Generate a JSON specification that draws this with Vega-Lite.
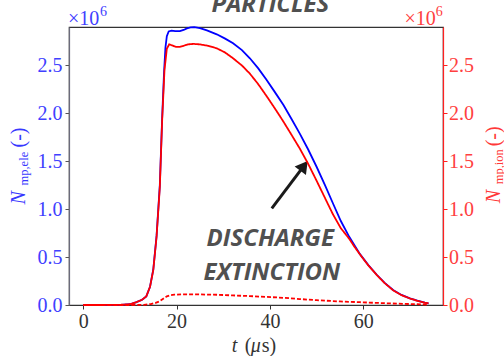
{
  "$schema": "https://vega.github.io/schema/vega-lite/v6.json",
  "width": 374,
  "height": 278,
  "autosize": {"type": "none"},
  "padding": {"left": 69, "top": 27, "right": 61, "bottom": 51},
  "background": "white",
  "config": {
    "view": {"stroke": "#333333", "strokeWidth": 1.2},
    "axis": {"grid": false, "labelFont": "Liberation Serif", "labelFontSize": 20, "tickSize": 4, "labelFlush": false, "labelOverlap": false, "domainWidth": 1.2, "tickWidth": 1}
  },
  "datasets": {
    "ele": [
      {"t": 0, "n": 0}, {"t": 4, "n": 0}, {"t": 8, "n": 0.002}, {"t": 10, "n": 0.008}, {"t": 11.4, "n": 0.03},
      {"t": 12.6, "n": 0.055}, {"t": 13.5, "n": 0.09}, {"t": 14.3, "n": 0.19}, {"t": 15, "n": 0.37}, {"t": 15.7, "n": 0.72},
      {"t": 16.4, "n": 1.25}, {"t": 16.9, "n": 1.95}, {"t": 17.3, "n": 2.42}, {"t": 17.6, "n": 2.68}, {"t": 17.9, "n": 2.8},
      {"t": 18.3, "n": 2.85}, {"t": 18.9, "n": 2.858}, {"t": 19.7, "n": 2.852}, {"t": 20.7, "n": 2.852}, {"t": 21.5, "n": 2.865},
      {"t": 22.2, "n": 2.882}, {"t": 23, "n": 2.892}, {"t": 23.8, "n": 2.895}, {"t": 25, "n": 2.885}, {"t": 26.5, "n": 2.86},
      {"t": 28.6, "n": 2.82}, {"t": 30.4, "n": 2.775}, {"t": 32.1, "n": 2.726}, {"t": 34, "n": 2.655}, {"t": 35.7, "n": 2.57},
      {"t": 37.5, "n": 2.465}, {"t": 39.3, "n": 2.344}, {"t": 41.1, "n": 2.215}, {"t": 42.9, "n": 2.083}, {"t": 44.6, "n": 1.94},
      {"t": 46.4, "n": 1.785}, {"t": 48.2, "n": 1.62}, {"t": 50, "n": 1.44}, {"t": 51.8, "n": 1.25}, {"t": 53.5, "n": 1.06},
      {"t": 55.2, "n": 0.875}, {"t": 57, "n": 0.71}, {"t": 59.3, "n": 0.53}, {"t": 61.1, "n": 0.415}, {"t": 62.9, "n": 0.315},
      {"t": 64.6, "n": 0.23}, {"t": 66.4, "n": 0.156}, {"t": 68.2, "n": 0.105}, {"t": 70, "n": 0.07}, {"t": 71.6, "n": 0.045},
      {"t": 73.2, "n": 0.025}, {"t": 74, "n": 0.018}
    ],
    "ion": [
      {"t": 0, "n": 0, "kind": "total"}, {"t": 4, "n": 0, "kind": "total"}, {"t": 8, "n": 0.002, "kind": "total"}, {"t": 10, "n": 0.008, "kind": "total"},
      {"t": 11.4, "n": 0.03, "kind": "total"}, {"t": 12.6, "n": 0.055, "kind": "total"}, {"t": 13.5, "n": 0.09, "kind": "total"}, {"t": 14.3, "n": 0.19, "kind": "total"},
      {"t": 15, "n": 0.365, "kind": "total"}, {"t": 15.7, "n": 0.71, "kind": "total"}, {"t": 16.4, "n": 1.23, "kind": "total"}, {"t": 16.9, "n": 1.93, "kind": "total"},
      {"t": 17.4, "n": 2.45, "kind": "total"}, {"t": 17.9, "n": 2.67, "kind": "total"}, {"t": 18.4, "n": 2.715, "kind": "total"}, {"t": 19, "n": 2.705, "kind": "total"},
      {"t": 19.8, "n": 2.69, "kind": "total"}, {"t": 20.7, "n": 2.69, "kind": "total"}, {"t": 21.5, "n": 2.7, "kind": "total"}, {"t": 22.4, "n": 2.715, "kind": "total"},
      {"t": 23.6, "n": 2.72, "kind": "total"}, {"t": 25, "n": 2.715, "kind": "total"}, {"t": 26.8, "n": 2.7, "kind": "total"}, {"t": 28.6, "n": 2.674, "kind": "total"},
      {"t": 30.4, "n": 2.63, "kind": "total"}, {"t": 32.1, "n": 2.57, "kind": "total"}, {"t": 34, "n": 2.495, "kind": "total"}, {"t": 35.7, "n": 2.41, "kind": "total"},
      {"t": 37.5, "n": 2.3, "kind": "total"}, {"t": 39.3, "n": 2.175, "kind": "total"}, {"t": 41.1, "n": 2.045, "kind": "total"}, {"t": 42.9, "n": 1.91, "kind": "total"},
      {"t": 44.6, "n": 1.775, "kind": "total"}, {"t": 46.4, "n": 1.63, "kind": "total"}, {"t": 48.2, "n": 1.47, "kind": "total"}, {"t": 50, "n": 1.295, "kind": "total"},
      {"t": 51.8, "n": 1.115, "kind": "total"}, {"t": 53.5, "n": 0.945, "kind": "total"}, {"t": 55.2, "n": 0.8, "kind": "total"}, {"t": 57, "n": 0.69, "kind": "total"},
      {"t": 58, "n": 0.615, "kind": "total"}, {"t": 59.3, "n": 0.527, "kind": "total"}, {"t": 61.1, "n": 0.412, "kind": "total"}, {"t": 62.9, "n": 0.312, "kind": "total"},
      {"t": 64.6, "n": 0.228, "kind": "total"}, {"t": 66.4, "n": 0.154, "kind": "total"}, {"t": 68.2, "n": 0.103, "kind": "total"}, {"t": 70, "n": 0.068, "kind": "total"},
      {"t": 71.6, "n": 0.044, "kind": "total"}, {"t": 73.2, "n": 0.024, "kind": "total"}, {"t": 74, "n": 0.017, "kind": "total"},
      {"t": 0, "n": 0, "kind": "dashed"}, {"t": 10, "n": 0, "kind": "dashed"}, {"t": 13, "n": 0.002, "kind": "dashed"}, {"t": 14.5, "n": 0.01, "kind": "dashed"},
      {"t": 15.5, "n": 0.022, "kind": "dashed"}, {"t": 16.4, "n": 0.04, "kind": "dashed"}, {"t": 17.2, "n": 0.068, "kind": "dashed"}, {"t": 17.9, "n": 0.09, "kind": "dashed"},
      {"t": 18.6, "n": 0.102, "kind": "dashed"}, {"t": 19.5, "n": 0.108, "kind": "dashed"}, {"t": 21, "n": 0.11, "kind": "dashed"}, {"t": 25, "n": 0.11, "kind": "dashed"},
      {"t": 28.6, "n": 0.107, "kind": "dashed"}, {"t": 32, "n": 0.1, "kind": "dashed"}, {"t": 35.7, "n": 0.093, "kind": "dashed"}, {"t": 39.3, "n": 0.084, "kind": "dashed"},
      {"t": 42.9, "n": 0.075, "kind": "dashed"}, {"t": 46.4, "n": 0.062, "kind": "dashed"}, {"t": 50, "n": 0.05, "kind": "dashed"}, {"t": 55, "n": 0.037, "kind": "dashed"},
      {"t": 59.3, "n": 0.029, "kind": "dashed"}, {"t": 65, "n": 0.018, "kind": "dashed"}, {"t": 70, "n": 0.01, "kind": "dashed"}, {"t": 74, "n": 0.005, "kind": "dashed"}
    ]
  },
  "layer": [
    {
      "layer": [
        {
          "data": {"name": "ele"},
          "mark": {"type": "line", "color": "#0000ff", "strokeWidth": 1.8},
          "encoding": {
            "x": {"field": "t", "type": "quantitative", "scale": {"domain": [-3.07, 77.1], "nice": false, "zero": false},
                  "axis": {"values": [0, 20, 40, 60], "title": null, "labelColor": "#333333", "domainColor": "#333333", "tickColor": "#333333", "labelPadding": 2}},
            "y": {"field": "n", "type": "quantitative", "scale": {"domain": [0, 2.896], "nice": false},
                  "axis": {"orient": "left", "values": [0, 0.5, 1, 1.5, 2, 2.5], "format": ".1f", "title": null, "labelColor": "#4040ff", "domainColor": "#6b6b7b", "tickColor": "#555555", "labelPadding": 3}}
          }
        },
        {
          "data": {"values": [{}]},
          "layer": [
            {"mark": {"type": "text", "text": "PARTICLES", "font": "Open Sans", "fontWeight": "bold", "fontStyle": "italic", "fontSize": 24, "color": "#505050", "align": "center", "baseline": "alphabetic"},
             "encoding": {"x": {"datum": 40.1, "type": "quantitative"}, "y": {"datum": 3.052, "type": "quantitative"}}},
            {"mark": {"type": "text", "text": "DISCHARGE", "font": "Open Sans", "fontWeight": "bold", "fontStyle": "italic", "fontSize": 24, "color": "#505050", "align": "center", "baseline": "alphabetic"},
             "encoding": {"x": {"datum": 40.07, "type": "quantitative"}, "y": {"datum": 0.615, "type": "quantitative"}}},
            {"mark": {"type": "text", "text": "EXTINCTION", "font": "Open Sans", "fontWeight": "bold", "fontStyle": "italic", "fontSize": 24, "color": "#505050", "align": "center", "baseline": "alphabetic"},
             "encoding": {"x": {"datum": 40.4, "type": "quantitative"}, "y": {"datum": 0.26, "type": "quantitative"}}},
            {"mark": {"type": "rule", "color": "#1a1a1a", "strokeWidth": 3},
             "encoding": {"x": {"datum": 40.4, "type": "quantitative"}, "y": {"datum": 1.007, "type": "quantitative"}, "x2": {"datum": 46.6}, "y2": {"datum": 1.405}}},
            {"mark": {"type": "point", "shape": "triangle-up", "filled": true, "color": "#1a1a1a", "opacity": 1, "size": 200, "angle": 37},
             "encoding": {"x": {"datum": 47.3, "type": "quantitative"}, "y": {"datum": 1.45, "type": "quantitative"}}},
            {"mark": {"type": "text", "text": "×10", "font": "Liberation Serif", "fontSize": 20, "color": "#4040ff", "align": "left", "baseline": "alphabetic"},
             "encoding": {"x": {"datum": -3.28, "type": "quantitative"}, "y": {"datum": 2.917, "type": "quantitative"}}},
            {"mark": {"type": "text", "text": "6", "font": "Liberation Serif", "fontSize": 14, "color": "#4040ff", "align": "left", "baseline": "alphabetic", "dx": 32, "dy": -9},
             "encoding": {"x": {"datum": -3.28, "type": "quantitative"}, "y": {"datum": 2.917, "type": "quantitative"}}},
            {"mark": {"type": "text", "text": "×10", "font": "Liberation Serif", "fontSize": 20, "color": "#ff4040", "align": "right", "baseline": "alphabetic"},
             "encoding": {"x": {"datum": 75.57, "type": "quantitative"}, "y": {"datum": 2.917, "type": "quantitative"}}},
            {"mark": {"type": "text", "text": "6", "font": "Liberation Serif", "fontSize": 14, "color": "#ff4040", "align": "left", "baseline": "alphabetic", "dx": 0, "dy": -9},
             "encoding": {"x": {"datum": 75.57, "type": "quantitative"}, "y": {"datum": 2.917, "type": "quantitative"}}},
            {"mark": {"type": "text", "text": "N", "font": "Liberation Serif", "fontStyle": "italic", "fontSize": 20, "color": "#3838ff", "align": "left", "baseline": "alphabetic", "angle": 270},
             "encoding": {"x": {"datum": -12.49, "type": "quantitative"}, "y": {"datum": 1.047, "type": "quantitative"}}},
            {"mark": {"type": "text", "text": "mp,ele", "font": "Liberation Serif", "fontSize": 12.5, "color": "#3838ff", "align": "left", "baseline": "alphabetic", "angle": 270, "dx": 19, "dy": 3},
             "encoding": {"x": {"datum": -12.49, "type": "quantitative"}, "y": {"datum": 1.047, "type": "quantitative"}}},
            {"mark": {"type": "text", "text": "(-)", "font": "Liberation Serif", "fontSize": 20, "color": "#3838ff", "align": "left", "baseline": "alphabetic", "angle": 270, "dx": 57},
             "encoding": {"x": {"datum": -12.49, "type": "quantitative"}, "y": {"datum": 1.047, "type": "quantitative"}}},
            {"mark": {"type": "text", "text": "N", "font": "Liberation Serif", "fontStyle": "italic", "fontSize": 20, "color": "#ff3838", "align": "left", "baseline": "alphabetic", "angle": 270},
             "encoding": {"x": {"datum": 89.29, "type": "quantitative"}, "y": {"datum": 1.059, "type": "quantitative"}}},
            {"mark": {"type": "text", "text": "mp,ion", "font": "Liberation Serif", "fontSize": 12.5, "color": "#ff3838", "align": "left", "baseline": "alphabetic", "angle": 270, "dx": 19, "dy": 3},
             "encoding": {"x": {"datum": 89.29, "type": "quantitative"}, "y": {"datum": 1.059, "type": "quantitative"}}},
            {"mark": {"type": "text", "text": "(-)", "font": "Liberation Serif", "fontSize": 20, "color": "#ff3838", "align": "left", "baseline": "alphabetic", "angle": 270, "dx": 57},
             "encoding": {"x": {"datum": 89.29, "type": "quantitative"}, "y": {"datum": 1.059, "type": "quantitative"}}},
            {"mark": {"type": "text", "text": "t", "font": "Liberation Serif", "fontStyle": "italic", "fontSize": 20, "color": "#333333", "align": "left", "baseline": "alphabetic"},
             "encoding": {"x": {"datum": 31.8, "type": "quantitative"}, "y": {"datum": -0.486, "type": "quantitative"}}},
            {"mark": {"type": "text", "text": "(", "font": "Liberation Serif", "fontSize": 20, "color": "#333333", "align": "left", "baseline": "alphabetic", "dx": 13},
             "encoding": {"x": {"datum": 31.8, "type": "quantitative"}, "y": {"datum": -0.486, "type": "quantitative"}}},
            {"mark": {"type": "text", "text": "μ", "font": "Liberation Serif", "fontStyle": "italic", "fontSize": 20, "color": "#333333", "align": "left", "baseline": "alphabetic", "dx": 19},
             "encoding": {"x": {"datum": 31.8, "type": "quantitative"}, "y": {"datum": -0.486, "type": "quantitative"}}},
            {"mark": {"type": "text", "text": "s)", "font": "Liberation Serif", "fontSize": 20, "color": "#333333", "align": "left", "baseline": "alphabetic", "dx": 30},
             "encoding": {"x": {"datum": 31.8, "type": "quantitative"}, "y": {"datum": -0.486, "type": "quantitative"}}}
          ]
        }
      ]
    },
    {
      "data": {"name": "ion"},
      "mark": {"type": "line", "color": "#ff0000", "strokeWidth": 1.8},
      "encoding": {
        "x": {"field": "t", "type": "quantitative"},
        "y": {"field": "n", "type": "quantitative", "scale": {"domain": [0, 2.896], "nice": false},
              "axis": {"orient": "right", "values": [0, 0.5, 1, 1.5, 2, 2.5], "format": ".1f", "title": null, "labelColor": "#ff4040", "domainColor": "#ff2020", "tickColor": "#ff2020", "labelPadding": 1.5}},
        "strokeDash": {"field": "kind", "type": "nominal", "scale": {"domain": ["total", "dashed"], "range": [[1, 0], [4, 2]]}, "legend": null}
      }
    }
  ],
  "resolve": {"scale": {"y": "independent"}}
}
